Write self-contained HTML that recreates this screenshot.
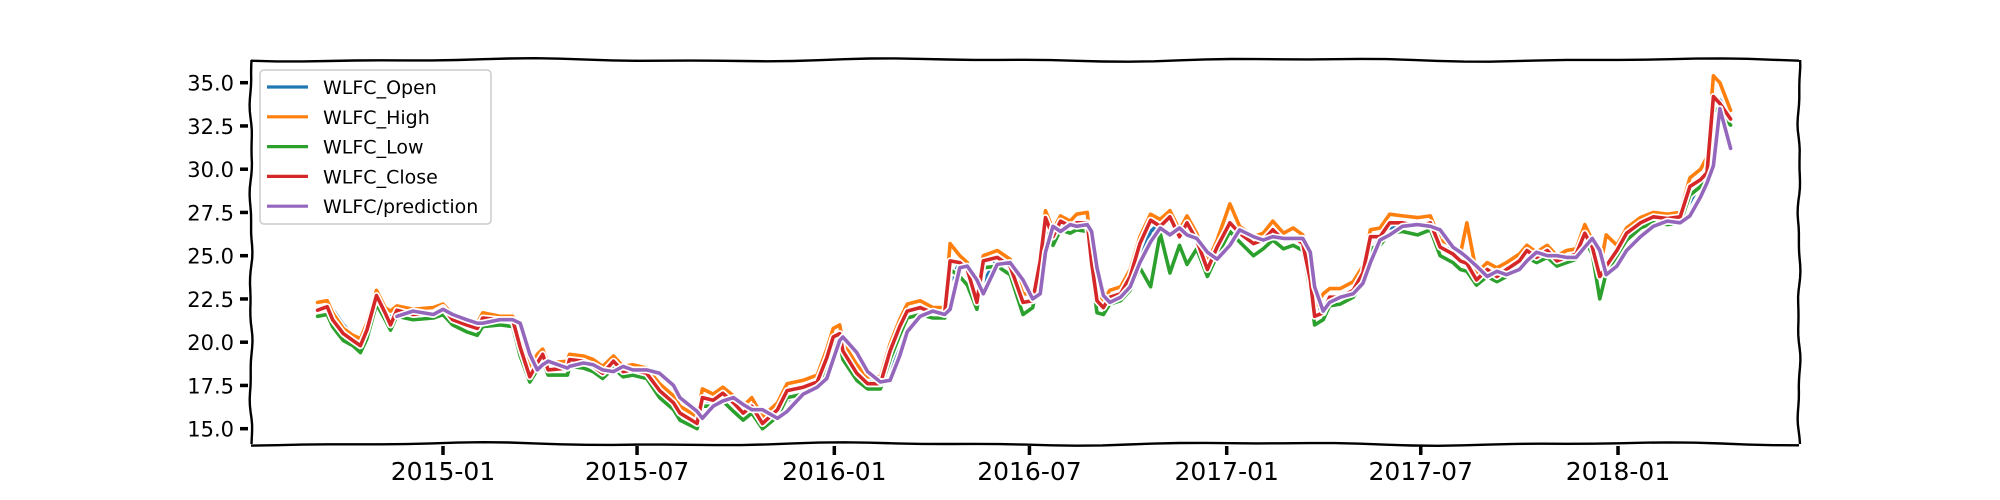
<!DOCTYPE html>
<html><head><meta charset="utf-8"><style>
html,body{margin:0;padding:0;background:#fff;}
svg{display:block;font-family:"DejaVu Sans","Liberation Sans",sans-serif;}
</style></head><body>
<svg id="chart" width="2000" height="500" viewBox="0 0 2000 500">
<g id="frame"></g>
<g id="yaxis"></g>
<g id="xaxis"></g>
<g id="series"></g>
<g id="legend"></g>
</svg>
<script>
// days since 2015-01-01
const days = [-117,-108,-103,-93,-84,-77,-71,-62,-54,-49,
-43,-28,-9,0,9,22,32,37,53,65,
72,81,88,93,98,116,118,131,140,149,
159,168,177,190,202,215,221,237,242,252,
261,271,280,288,298,312,321,336,349,358,
364,370,373,386,396,408,417,426,433,445,
457,468,473,482,489,498,504,517,529,541,
550,557,562,569,576,585,591,601,605,610,
616,622,632,641,650,660,669,678,687,694,
703,713,722,734,743,756,765,774,784,793,
802,809,813,821,827,837,849,858,865,874,
883,895,909,921,930,942,949,955,964,974,
983,992,1004,1011,1020,1030,1039,1048,1057,1065,
1072,1079,1085,1095,1104,1117,1129,1142,1154,1163,
1173,1179,1185,1191,1201];
const openVals = [21.9,21.9,21.9,21.0,20.4,20.0,20.2,22.0,22.2,21.3,
21.5,21.7,21.6,21.8,21.6,21.2,20.9,21.0,21.3,21.3,
20.5,18.6,18.4,19.0,18.8,18.5,18.7,19.0,18.7,18.4,
18.4,18.6,18.3,18.3,17.6,16.8,16.2,15.6,16.2,16.7,
16.8,16.8,16.2,16.1,15.8,15.7,16.6,17.3,17.5,18.4,
19.7,20.4,20.0,18.8,17.9,17.6,18.5,20.2,21.3,21.9,
21.8,21.7,23.5,24.6,24.4,23.2,23.5,24.8,24.6,23.3,
22.4,23.5,26.0,26.6,26.5,26.8,26.8,26.9,25.7,23.5,
22.2,22.3,22.7,23.3,24.7,26.4,26.9,27.0,26.7,26.5,
26.4,25.0,24.8,26.2,26.6,26.0,25.8,26.2,26.2,26.0,
25.9,24.6,22.5,21.6,22.1,22.6,22.8,23.5,25.0,26.1,
26.5,26.9,26.8,26.8,26.2,25.3,24.9,24.6,24.1,23.9,
24.0,24.0,24.4,25.0,25.1,25.1,25.0,24.8,25.0,25.7,
25.9,24.6,24.1,24.8,25.8,26.6,27.1,27.2,27.2,28.1,
29.2,29.6,32.0,34.0,33.0];
const highVals = [22.3,22.4,21.7,20.8,20.4,20.2,21.1,23.0,22.0,21.8,
22.1,21.9,22.0,22.2,21.6,21.3,21.1,21.7,21.5,21.5,
20.0,18.5,19.3,19.6,18.8,18.9,19.3,19.2,19.0,18.6,
19.2,18.6,18.7,18.5,17.6,16.9,16.3,15.7,17.3,17.0,
17.4,16.9,16.3,16.8,15.7,16.5,17.6,17.8,18.1,19.6,
20.8,21.0,20.0,18.7,18.0,18.0,19.9,21.3,22.2,22.4,
22.0,22.0,25.7,25.0,24.6,22.8,25.0,25.3,24.8,22.8,
22.8,25.1,27.6,26.5,27.3,27.0,27.4,27.5,25.0,22.8,
22.4,23.0,23.2,24.2,26.1,27.4,27.1,27.6,26.5,27.3,
26.3,24.6,25.9,28.0,26.7,26.1,26.3,27.0,26.3,26.6,
26.2,24.0,22.0,22.8,23.1,23.1,23.5,24.4,26.5,26.6,
27.4,27.3,27.2,27.3,25.9,25.6,25.1,26.9,24.0,24.6,
24.3,24.6,25.1,25.6,25.2,25.6,25.0,25.3,25.4,26.8,
25.9,24.2,26.2,25.6,26.6,27.2,27.5,27.4,27.5,29.5,
30.0,30.7,35.4,35.0,33.4];
const lowVals = [21.5,21.6,20.9,20.1,19.8,19.4,20.2,22.2,21.3,20.7,
21.5,21.3,21.4,21.6,21.0,20.6,20.4,20.9,21.0,20.9,
19.2,17.7,18.4,18.9,18.1,18.1,18.6,18.5,18.3,17.9,
18.5,18.0,18.1,17.9,16.8,16.1,15.5,15.0,16.3,16.3,
16.6,16.0,15.5,15.9,15.0,15.7,16.8,17.0,17.4,18.6,
19.9,20.0,19.0,17.8,17.3,17.3,19.0,20.4,21.4,21.6,
21.4,21.4,24.2,23.8,23.3,21.9,24.3,24.4,23.9,21.6,
22.0,24.2,26.6,25.6,26.5,26.3,26.5,26.4,24.0,21.7,
21.6,22.2,22.4,23.0,24.3,23.2,26.3,24.0,25.6,24.5,
25.4,23.8,25.0,26.4,25.8,25.0,25.4,25.9,25.4,25.6,
25.3,23.0,21.0,21.3,22.1,22.2,22.6,23.4,25.4,25.6,
26.3,26.4,26.2,26.5,25.0,24.6,24.2,24.1,23.3,23.8,
23.5,23.8,24.3,24.9,24.6,24.9,24.4,24.6,24.8,25.9,
25.1,22.5,24.0,25.0,25.9,26.6,26.9,26.8,26.9,28.5,
29.0,29.4,33.6,33.2,32.55];
const closeVals = [21.85,22.05,21.3,20.5,20.1,19.8,20.7,22.7,21.7,21.0,
21.85,21.6,21.7,22.0,21.3,21.0,20.8,21.4,21.3,21.3,
19.7,18.0,18.8,19.3,18.4,18.5,19.0,18.9,18.6,18.2,
18.9,18.3,18.4,18.2,17.2,16.5,15.9,15.3,16.8,16.65,
17.05,16.5,15.9,16.3,15.3,16.1,17.2,17.4,17.7,19.1,
20.3,20.5,19.5,18.2,17.6,17.6,19.5,20.9,21.8,22.0,
21.7,21.7,24.7,24.6,24.2,22.3,24.7,24.9,24.4,22.3,
22.4,24.7,27.2,26.1,27.0,26.7,26.9,26.9,24.6,22.4,
22.0,22.6,22.8,23.8,25.7,27.05,26.7,27.25,26.1,26.9,
25.9,24.2,25.5,26.9,26.3,25.7,25.9,26.5,25.9,26.1,
25.7,23.6,21.5,21.7,22.6,22.6,23.0,24.0,26.1,26.1,
26.9,26.9,26.7,26.9,25.5,25.1,24.7,24.55,23.6,24.2,
23.8,24.2,24.7,25.3,24.9,25.3,24.7,24.9,25.1,26.3,
25.5,23.8,24.4,25.3,26.3,26.9,27.25,27.15,27.25,29.0,
29.4,29.8,34.2,33.8,32.9];
const predDays = days.slice(10);
const predVals = [21.5,21.8,21.6,21.9,21.6,21.3,21.1,21.1,21.3,21.3,
21.1,19.3,18.4,18.7,18.9,18.5,18.6,18.8,18.7,18.4,
18.3,18.6,18.4,18.4,18.2,17.5,16.8,16.0,15.6,16.3,
16.6,16.8,16.4,16.1,16.1,15.6,16.0,17.0,17.4,17.9,
19.0,20.1,20.3,19.4,18.3,17.7,17.8,19.2,20.6,21.5,
21.8,21.6,21.9,24.3,24.4,23.6,22.8,24.5,24.6,23.6,
22.5,22.8,25.2,26.7,26.4,26.8,26.7,26.8,26.4,24.3,
22.7,22.3,22.6,23.2,24.6,25.8,26.6,26.2,26.6,26.2,
26.0,25.2,24.8,25.6,26.5,26.1,25.9,26.1,26.0,26.0,
26.0,25.2,23.2,21.8,22.3,22.6,22.8,23.4,24.6,25.9,
26.2,26.7,26.8,26.7,26.5,25.5,25.2,24.9,24.4,23.8,
24.1,23.9,24.2,24.7,25.2,25.0,25.0,24.9,24.9,25.5,
26.0,25.3,23.9,24.4,25.3,26.1,26.7,27.0,26.9,27.3,
28.4,29.2,30.2,33.5,31.2];
const yTicks = [15.0,17.5,20.0,22.5,25.0,27.5,30.0,32.5,35.0];
const xTickLabels = ["2015-01","2015-07","2016-01","2016-07","2017-01","2017-07","2018-01"];
const xTickDays = [0,181,365,547,731,912,1096];
const seriesNames = ["WLFC_Open","WLFC_High","WLFC_Low","WLFC_Close","WLFC/prediction"];

const NS="http://www.w3.org/2000/svg";
const L=251,R=1799,T=60,B=444;
const xS=d=>443+d*1.0721;
const yS=v=>82.7+(35-v)*17.3;
function mk(tag,attrs,parent){const e=document.createElementNS(NS,tag);for(const k in attrs)e.setAttribute(k,attrs[k]);parent.appendChild(e);return e;}

function wig(x1,y1,x2,y2,amp,ph){let p="";const n=60;for(let i=0;i<=n;i++){const t=i/n;const x=x1+(x2-x1)*t,y=y1+(y2-y1)*t;const w=amp*Math.sin(t*25+ph)+amp*0.5*Math.sin(t*57+ph*2);const dx=(y2-y1)?w:0,dy=(x2-x1)?w:0;p+=(i?"L":"M")+(x+dx).toFixed(1)+","+(y+dy).toFixed(1);}return p;}
const frame=document.getElementById('frame');
const sides=[[L,T,R,T,1.2,0.3,'top-spine'],[L,B,R,B,1.2,1.1,'bottom-spine'],[L,T,L,B,1.0,2.0,'left-spine'],[R,T,R,B,1.0,0.7,'right-spine']];
sides.forEach(s=>{const e=mk('path',{d:wig(s[0],s[1],s[2],s[3],s[4],s[5]),fill:'none',stroke:'#000','stroke-width':2.4},frame);

});

const yax=document.getElementById('yaxis');
yTicks.forEach(v=>{const y=yS(v);
const t=mk('line',{x1:240,x2:248,y1:y,y2:y,stroke:'#000','stroke-width':3.5},yax);


const tx=mk('text',{x:234,y:y+8,'text-anchor':'end','font-size':21,fill:'#000'},yax);tx.textContent=v.toFixed(1);

});
const xax=document.getElementById('xaxis');
xTickLabels.forEach((lab,i)=>{const x=xS(xTickDays[i]);
const t=mk('line',{x1:x,x2:x,y1:446,y2:455,stroke:'#000','stroke-width':3.5},xax);


const tx=mk('text',{x:x,y:480,'text-anchor':'middle','font-size':25,fill:'#000'},xax);tx.textContent=lab;

});

const colors=["#1f77b4","#ff7f0e","#2ca02c","#d62728","#9467bd"];
const sg=document.getElementById('series');
function drawSeries(ds,vs,color,name){const n=Math.min(ds.length,vs.length);let p="";
for(let i=0;i<n;i++){p+=(i?"L":"M")+xS(ds[i]).toFixed(1)+","+yS(vs[i]).toFixed(1);}
const g=mk('g',{},sg);


mk('path',{d:p,fill:'none',stroke:'#fff','stroke-width':7,'stroke-linejoin':'round','stroke-linecap':'round'},g);
mk('path',{d:p,fill:'none',stroke:color,'stroke-width':3.6,'stroke-linejoin':'round','stroke-linecap':'round'},g);}
drawSeries(days,openVals,colors[0],'open-line');
drawSeries(days,highVals,colors[1],'high-line');
drawSeries(days,lowVals,colors[2],'low-line');
drawSeries(days,closeVals,colors[3],'close-line');
drawSeries(predDays,predVals,colors[4],'prediction-line');

const lg=document.getElementById('legend');
const box=mk('rect',{x:260,y:70,width:231,height:154,rx:4,fill:'#fff','fill-opacity':0.85,stroke:'#ccc','stroke-width':1.5},lg);


seriesNames.forEach((nm,i)=>{const y=87+i*29.8;
const g=mk('g',{},lg);


mk('line',{x1:267,x2:308,y1:y,y2:y,stroke:colors[i],'stroke-width':3.2},g);
const tx=mk('text',{x:323,y:y+7,'font-size':19,fill:'#000'},g);tx.textContent=nm;});
</script>
</body></html>
